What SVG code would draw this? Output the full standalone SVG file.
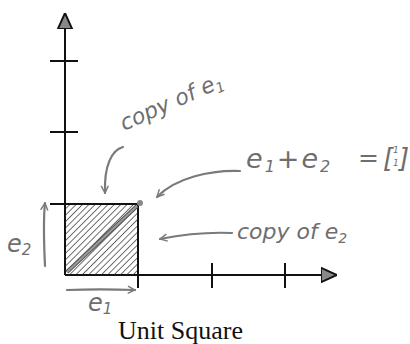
<svg xmlns="http://www.w3.org/2000/svg" width="410" height="344" viewBox="0 0 410 344">
<defs>
<style>
.ax{stroke:#111;stroke-width:2;fill:none}
.hand{stroke:#7a7a7a;stroke-width:2.2;fill:none;stroke-linecap:round}
.lbl{font-family:"DejaVu Sans",sans-serif;font-style:italic;fill:#6e6e6e}
.cap{font-family:"Liberation Serif",serif;font-size:26px;fill:#111}
</style>
<pattern id="hatch" patternUnits="userSpaceOnUse" width="4.5" height="4.5" patternTransform="rotate(45)">
<line x1="0" y1="0" x2="0" y2="4.5" stroke="#222" stroke-width="1.3"/>
</pattern>
<marker id="open" viewBox="0 0 10 10" refX="9" refY="5" markerWidth="9" markerHeight="9" markerUnits="userSpaceOnUse" orient="auto">
<path d="M1,1 L9,5 L1,9" fill="none" stroke="#7a7a7a" stroke-width="1.6"/>
</marker>
<marker id="tri" viewBox="0 0 10 10" refX="10" refY="5" markerWidth="16" markerHeight="16" markerUnits="userSpaceOnUse" orient="auto">
<path d="M0,0.5 L10,5 L0,9.5 Z" fill="#888" stroke="#111" stroke-width="1.2"/>
</marker>
</defs>

<g id="axes">
<line class="ax" x1="65" y1="275" x2="65" y2="13" marker-end="url(#tri)"/>
<line class="ax" x1="65" y1="275" x2="337" y2="275" marker-end="url(#tri)"/>
<line class="ax" x1="50" y1="61" x2="78" y2="61"/>
<line class="ax" x1="50" y1="132" x2="78" y2="132"/>
<line class="ax" x1="212" y1="263" x2="212" y2="288"/>
<line class="ax" x1="285" y1="263" x2="285" y2="288"/>
</g>

<g id="square">
<rect x="65" y="204" width="73" height="71" fill="url(#hatch)"/>
<line class="ax" x1="50" y1="204" x2="138" y2="204"/>
<line class="ax" x1="138" y1="204" x2="138" y2="288"/>
<line x1="67" y1="272" x2="137" y2="206" stroke="#555" stroke-width="4"/>
<line x1="67" y1="272" x2="137" y2="206" stroke="#9a9a9a" stroke-width="2"/>
<circle cx="140" cy="203" r="3" fill="#888"/>
</g>

<g id="connectors">
<path class="hand" d="M123,147 C112,150 104,165 105,193" marker-end="url(#open)"/>
<path class="hand" d="M240,171 C210,170 175,178 157,197" marker-end="url(#open)"/>
<path class="hand" d="M232,233 C210,232 185,234 160,239" marker-end="url(#open)"/>
<path class="hand" d="M45,266 C44,245 43,222 45,203" marker-end="url(#open)"/>
<path class="hand" d="M67,290 C90,289 110,289 135,290" marker-end="url(#open)"/>
</g>

<g id="label-copy-e1">
<text class="lbl" font-size="22" transform="translate(124,131) rotate(-24)">copy of e<tspan font-size="14" dy="4">1</tspan></text>
</g>

<g id="label-sum">
<text class="lbl" font-size="27" x="246" y="168" letter-spacing="2">e<tspan font-size="16" dy="4">1</tspan><tspan dy="-4">+e</tspan><tspan font-size="16" dy="4">2</tspan></text>
<text class="lbl" font-size="25" x="358" y="166">=</text>
<text class="lbl" font-size="26" x="383" y="167">[</text>
<text class="lbl" font-size="9" x="393" y="153">1</text>
<text class="lbl" font-size="9" x="393" y="166">1</text>
<text class="lbl" font-size="26" x="399" y="167">]</text>
</g>

<g id="label-copy-e2">
<text class="lbl" font-size="22" x="237" y="239">copy of e<tspan font-size="14" dy="4">2</tspan></text>
</g>

<g id="label-e2">
<text class="lbl" font-size="24" x="7" y="252">e<tspan font-size="15" dy="3">2</tspan></text>
</g>

<g id="label-e1">
<text class="lbl" font-size="24" x="88" y="311">e<tspan font-size="15" dy="3">1</tspan></text>
</g>

<g id="caption">
<text class="cap" x="118" y="339">Unit Square</text>
</g>
</svg>
